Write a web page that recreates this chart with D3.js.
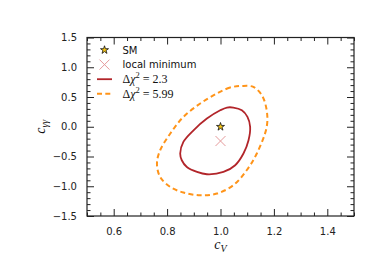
<!DOCTYPE html>
<html lang="en">
<head>
<meta charset="UTF-8">
<title>cV vs cgammagamma</title>
<script src="https://d3js.org/d3.v7.min.js"></script>
<style>
  body { margin: 0; background: #fff; }
  .tick text { font-family: 'DejaVu Sans', sans-serif; font-size: 10px; fill: #222; }
  .leg { font-family: 'DejaVu Sans', sans-serif; font-size: 10px; fill: #111; }
  .math { font-family: 'Liberation Serif', 'DejaVu Serif', serif; fill: #111; }
</style>
</head>
<body>
<div id="chart"></div>
<script>
// contour of delta chi^2 = 2.3 (cV, cgg)
const cV_68 = [1.048, 1.080, 1.101, 1.111, 1.105, 1.086, 1.055, 1.011, 0.949, 0.912, 0.874, 0.855, 0.849, 0.861, 0.899, 0.949, 0.999, 1.024];
const cgg_68 = [0.323, 0.277, 0.165, -0.003, -0.227, -0.450, -0.647, -0.760, -0.798, -0.760, -0.676, -0.563, -0.450, -0.255, -0.059, 0.138, 0.277, 0.323];
// contour of delta chi^2 = 5.99
const cV_95 = [1.080, 1.036, 0.986, 0.924, 0.861, 0.812, 0.774, 0.762, 0.774, 0.812, 0.861, 0.924, 0.986, 1.048, 1.098, 1.136, 1.173, 1.173, 1.155, 1.123];
const cgg_95 = [0.686, 0.659, 0.558, 0.390, 0.165, -0.114, -0.395, -0.618, -0.844, -1.012, -1.106, -1.151, -1.123, -0.983, -0.731, -0.450, -0.003, 0.277, 0.529, 0.669];
const smPoint = [1.0, 0.0];
const localMin = [1.0, -0.24];
const xTicks = [0.6, 0.8, 1.0, 1.2, 1.4];
const yTicks = [-1.5, -1.0, -0.5, 0.0, 0.5, 1.0, 1.5];

const W = 387, H = 256;
const margin = { top: 37.5, right: 33, bottom: 40, left: 87 };
const width = W - margin.left - margin.right,
      height = H - margin.top - margin.bottom;

const svgRoot = d3.select("#chart").append("svg")
    .attr("width", W).attr("height", H);
const svg = svgRoot.append("g")
    .attr("transform", `translate(${margin.left},${margin.top})`);

const x = d3.scaleLinear().domain([0.5, 1.5]).range([0, width]);
const y = d3.scaleLinear().domain([-1.5, 1.5]).range([height, 0]);

const fmt = d => d3.format(".1f")(d).replace("-", "\u2212");
const xMinor = d3.range(0.5, 1.5001, 0.05).map(v => +v.toFixed(2)).filter(v => !xTicks.includes(v));
const yMinor = d3.range(-1.5, 1.5001, 0.1).map(v => +v.toFixed(1)).filter(v => !yTicks.includes(v));

function styleAxis(g) {
  g.select(".domain").remove();
  g.selectAll(".tick line").attr("stroke", "#222").attr("stroke-width", 1);
}

// bottom axis (ticks pointing inward)
svg.append("g").attr("transform", `translate(0,${height})`)
  .call(d3.axisBottom(x).tickValues(xTicks).tickFormat(fmt).tickSizeInner(-7).tickPadding(12))
  .call(styleAxis);
svg.append("g").attr("transform", `translate(0,${height})`)
  .call(d3.axisBottom(x).tickValues(xMinor).tickFormat("").tickSizeInner(-3.5))
  .call(styleAxis);
// top axis
svg.append("g")
  .call(d3.axisTop(x).tickValues(xTicks).tickFormat("").tickSizeInner(-7))
  .call(styleAxis);
svg.append("g")
  .call(d3.axisTop(x).tickValues(xMinor).tickFormat("").tickSizeInner(-3.5))
  .call(styleAxis);
// left axis
svg.append("g")
  .call(d3.axisLeft(y).tickValues(yTicks).tickFormat(fmt).tickSizeInner(-7).tickPadding(10))
  .call(styleAxis);
svg.append("g")
  .call(d3.axisLeft(y).tickValues(yMinor).tickFormat("").tickSizeInner(-3.5))
  .call(styleAxis);
// right axis
svg.append("g").attr("transform", `translate(${width},0)`)
  .call(d3.axisRight(y).tickValues(yTicks).tickFormat("").tickSizeInner(-7))
  .call(styleAxis);
svg.append("g").attr("transform", `translate(${width},0)`)
  .call(d3.axisRight(y).tickValues(yMinor).tickFormat("").tickSizeInner(-3.5))
  .call(styleAxis);

// frame
svg.append("rect")
  .attr("width", width).attr("height", height)
  .attr("fill", "none").attr("stroke", "#222").attr("stroke-width", 1.2);

// contours
const line = d3.line()
  .x(d => x(d[0])).y(d => y(d[1]))
  .curve(d3.curveCatmullRomClosed);

svg.append("path")
  .datum(d3.zip(cV_95, cgg_95))
  .attr("d", line)
  .attr("fill", "none")
  .attr("stroke", "#ff9419")
  .attr("stroke-width", 2)
  .attr("stroke-dasharray", "5,3.3");

svg.append("path")
  .datum(d3.zip(cV_68, cgg_68))
  .attr("d", line)
  .attr("fill", "none")
  .attr("stroke", "#b2252a")
  .attr("stroke-width", 1.8);

// markers
const star = d3.symbol().type(d3.symbolStar).size(20);
function cross(g, cx, cy) {
  const s = 5;
  g.append("path")
    .attr("d", `M${cx - s},${cy - s}L${cx + s},${cy + s}M${cx - s},${cy + s}L${cx + s},${cy - s}`)
    .attr("stroke", "#e59a9b").attr("stroke-width", 1);
}
cross(svg, x(localMin[0]), y(localMin[1]));
svg.append("path")
  .attr("d", star)
  .attr("transform", `translate(${x(smPoint[0])},${y(smPoint[1])})`)
  .attr("fill", "#f3c316").attr("stroke", "#111").attr("stroke-width", 0.8);

// legend
const legend = svg.append("g").attr("transform", "translate(10,12.5)");
const rowH = 14.6;
legend.append("path")
  .attr("d", star)
  .attr("transform", "translate(7.5,0)")
  .attr("fill", "#f3c316").attr("stroke", "#111").attr("stroke-width", 0.8);
cross(legend, 7.5, rowH);
legend.append("line")
  .attr("x1", 0).attr("x2", 15).attr("y1", 2 * rowH).attr("y2", 2 * rowH)
  .attr("stroke", "#b2252a").attr("stroke-width", 1.8);
legend.append("line")
  .attr("x1", 0).attr("x2", 15).attr("y1", 3 * rowH).attr("y2", 3 * rowH)
  .attr("stroke", "#ff9419").attr("stroke-width", 2).attr("stroke-dasharray", "5,3.3");

const labels = ["SM", "local minimum"];
labels.forEach((t, i) => {
  legend.append("text").attr("class", "leg")
    .attr("x", 25.5).attr("y", i * rowH + 3.7).text(t);
});
const chiLabels = ["2.3", "5.99"];
chiLabels.forEach((v, i) => {
  const t = legend.append("text").attr("class", "math")
    .attr("x", 25.5).attr("y", (i + 2) * rowH + 3.7).style("font-size", "12px")
    .attr("xml:space", "preserve");
  t.append("tspan").text("\u0394");
  t.append("tspan").style("font-style", "italic").text("\u03c7");
  t.append("tspan").attr("dy", -4.5).style("font-size", "8.5px").text("2");
  t.append("tspan").attr("dy", 4.5).text("\u00a0=\u00a0" + v);
});

// axis titles
const xt = svgRoot.append("text").attr("class", "math")
  .attr("x", margin.left + x(1.0)).attr("y", 249)
  .attr("text-anchor", "middle").style("font-size", "14px");
xt.append("tspan").style("font-style", "italic").text("c");
xt.append("tspan").attr("dy", 3).style("font-size", "10px").style("font-style", "italic").text("V");

const yt = svgRoot.append("text").attr("class", "math")
  .attr("transform", `translate(45,${margin.top + y(0)}) rotate(-90)`)
  .attr("text-anchor", "middle").style("font-size", "14px");
yt.append("tspan").style("font-style", "italic").text("c");
yt.append("tspan").attr("dy", 3).style("font-size", "10px").style("font-style", "italic").text("\u03b3\u03b3");
</script>
</body>
</html>
